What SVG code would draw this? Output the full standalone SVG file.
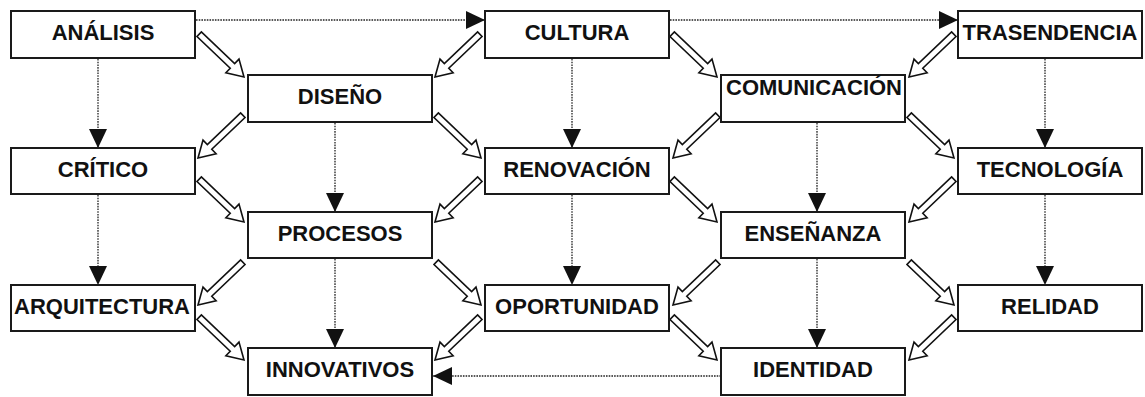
<svg xmlns="http://www.w3.org/2000/svg" xmlns:xlink="http://www.w3.org/1999/xlink" width="1145" height="397" viewBox="0 0 1145 397">
<style>
.box{fill:#fff;stroke:#1a1a1a;stroke-width:2}
.lbl{font-family:"Liberation Sans",Arial,sans-serif;font-weight:bold;font-size:22px;fill:#111;text-anchor:middle}
.dot{fill:none;stroke:#222;stroke-width:1.3;stroke-dasharray:1.6 1.1}
.ha{fill:#fff;stroke:#111;stroke-width:1.6;stroke-linejoin:miter}
</style>
<defs>
<marker id="tri" markerUnits="userSpaceOnUse" markerWidth="20" markerHeight="18" viewBox="0 0 20 18" refX="19" refY="9" orient="auto">
<path d="M0,0 L19,9 L0,18 Z" fill="#111"/>
</marker>
<path id="ha" class="ha" d="M0,0 L-16,-9.5 L-16,-3.2 L-62,-3.2 L-62,3.2 L-16,3.2 L-16,9.5 Z"/>
</defs>
<rect width="1145" height="397" fill="#fff"/>
<g id="connectors">
<line class="dot" x1="196" y1="20" x2="485" y2="20" marker-end="url(#tri)"/>
<line class="dot" x1="670" y1="20" x2="958" y2="20" marker-end="url(#tri)"/>
<line class="dot" x1="721" y1="376" x2="433" y2="376" marker-end="url(#tri)"/>
<line class="dot" x1="98" y1="59" x2="98" y2="148" marker-end="url(#tri)"/>
<line class="dot" x1="98" y1="195" x2="98" y2="285" marker-end="url(#tri)"/>
<line class="dot" x1="335" y1="123" x2="335" y2="212" marker-end="url(#tri)"/>
<line class="dot" x1="335" y1="259" x2="335" y2="348" marker-end="url(#tri)"/>
<line class="dot" x1="572" y1="59" x2="572" y2="148" marker-end="url(#tri)"/>
<line class="dot" x1="572" y1="195" x2="572" y2="285" marker-end="url(#tri)"/>
<line class="dot" x1="817" y1="123" x2="817" y2="212" marker-end="url(#tri)"/>
<line class="dot" x1="817" y1="259" x2="817" y2="348" marker-end="url(#tri)"/>
<line class="dot" x1="1045" y1="59" x2="1045" y2="148" marker-end="url(#tri)"/>
<line class="dot" x1="1045" y1="195" x2="1045" y2="285" marker-end="url(#tri)"/>
<use xlink:href="#ha" transform="translate(244,77) rotate(43.7)"/>
<use xlink:href="#ha" transform="translate(244,222) rotate(43.7)"/>
<use xlink:href="#ha" transform="translate(244,360) rotate(43.7)"/>
<use xlink:href="#ha" transform="translate(481,158) rotate(43.7)"/>
<use xlink:href="#ha" transform="translate(481,305) rotate(43.7)"/>
<use xlink:href="#ha" transform="translate(717,77) rotate(43.7)"/>
<use xlink:href="#ha" transform="translate(717,222) rotate(43.7)"/>
<use xlink:href="#ha" transform="translate(717,360) rotate(43.7)"/>
<use xlink:href="#ha" transform="translate(954,158) rotate(43.7)"/>
<use xlink:href="#ha" transform="translate(954,305) rotate(43.7)"/>
<use xlink:href="#ha" transform="translate(198,158) rotate(136.3)"/>
<use xlink:href="#ha" transform="translate(198,305) rotate(136.3)"/>
<use xlink:href="#ha" transform="translate(435,77) rotate(136.3)"/>
<use xlink:href="#ha" transform="translate(435,222) rotate(136.3)"/>
<use xlink:href="#ha" transform="translate(435,360) rotate(136.3)"/>
<use xlink:href="#ha" transform="translate(673,158) rotate(136.3)"/>
<use xlink:href="#ha" transform="translate(673,305) rotate(136.3)"/>
<use xlink:href="#ha" transform="translate(909,77) rotate(136.3)"/>
<use xlink:href="#ha" transform="translate(909,222) rotate(136.3)"/>
<use xlink:href="#ha" transform="translate(909,360) rotate(136.3)"/>
</g>
<g id="analisis"><rect class="box" x="11" y="11" width="184" height="47"/><text class="lbl" x="103" y="40">ANÁLISIS</text></g>
<g id="critico"><rect class="box" x="11" y="148" width="184" height="46"/><text class="lbl" x="103" y="177">CRÍTICO</text></g>
<g id="arquitectura"><rect class="box" x="11" y="285" width="184" height="46"/><text class="lbl" x="102" y="314">ARQUITECTURA</text></g>
<g id="diseno"><rect class="box" x="248" y="75" width="184" height="47"/><text class="lbl" x="340" y="104">DISEÑO</text></g>
<g id="procesos"><rect class="box" x="248" y="212" width="184" height="46"/><text class="lbl" x="340" y="241">PROCESOS</text></g>
<g id="innovativos"><rect class="box" x="248" y="348" width="184" height="47"/><text class="lbl" x="340" y="377">INNOVATIVOS</text></g>
<g id="cultura"><rect class="box" x="485" y="11" width="184" height="47"/><text class="lbl" x="577" y="40">CULTURA</text></g>
<g id="renovacion"><rect class="box" x="485" y="148" width="184" height="46"/><text class="lbl" x="577" y="177">RENOVACIÓN</text></g>
<g id="oportunidad"><rect class="box" x="485" y="285" width="184" height="46"/><text class="lbl" x="577" y="314">OPORTUNIDAD</text></g>
<g id="comunicacion"><rect class="box" x="721" y="75" width="184" height="47"/><text class="lbl" x="814" y="95">COMUNICACIÓN</text></g>
<g id="ensenanza"><rect class="box" x="721" y="212" width="184" height="46"/><text class="lbl" x="813" y="241">ENSEÑANZA</text></g>
<g id="identidad"><rect class="box" x="721" y="348" width="184" height="47"/><text class="lbl" x="813" y="377">IDENTIDAD</text></g>
<g id="trasendencia"><rect class="box" x="958" y="11" width="184" height="47"/><text class="lbl" x="1050" y="40">TRASENDENCIA</text></g>
<g id="tecnologia"><rect class="box" x="958" y="148" width="184" height="46"/><text class="lbl" x="1050" y="177">TECNOLOGÍA</text></g>
<g id="relidad"><rect class="box" x="958" y="285" width="184" height="46"/><text class="lbl" x="1050" y="314">RELIDAD</text></g>
</svg>
